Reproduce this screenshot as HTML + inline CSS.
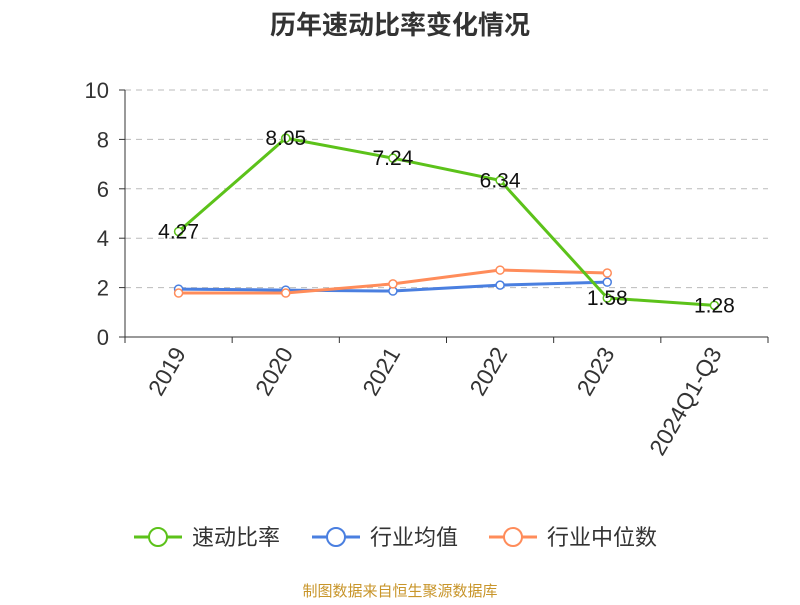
<!DOCTYPE html>
<html><head><meta charset="utf-8"><style>
body{margin:0;background:#fff;font-family:"Liberation Sans","Noto Sans CJK SC",sans-serif}
</style></head><body>
<svg width="800" height="600" id="c" font-family="Liberation Sans, Noto Sans CJK SC, sans-serif">
<text x="400" y="34" text-anchor="middle" font-size="26" font-weight="bold" fill="#333">历年速动比率变化情况</text>
<g id="grid"></g><g id="axes"></g><g id="series"></g>
<g font-size="22" fill="#333">
<g><line x1="134" y1="537" x2="182" y2="537" stroke="#5cc21a" stroke-width="3"/><circle cx="158" cy="537" r="9" fill="#fff" stroke="#5cc21a" stroke-width="2"/><text x="192" y="545">速动比率</text></g>
<g><line x1="312" y1="537" x2="360" y2="537" stroke="#4a7fe0" stroke-width="3"/><circle cx="336" cy="537" r="9" fill="#fff" stroke="#4a7fe0" stroke-width="2"/><text x="370" y="545">行业均值</text></g>
<g><line x1="489" y1="537" x2="537" y2="537" stroke="#ff8c5a" stroke-width="3"/><circle cx="513" cy="537" r="9" fill="#fff" stroke="#ff8c5a" stroke-width="2"/><text x="547" y="545">行业中位数</text></g>
</g>
<text x="400" y="596" text-anchor="middle" font-size="15" fill="#c8952a">制图数据来自恒生聚源数据库</text>
</svg>
<script>
const categories=["2019","2020","2021","2022","2023","2024Q1-Q3"];
const quickRatio=[4.27,8.05,7.24,6.34,1.58,1.28];
const industryMean=[1.94,1.9,1.86,2.1,2.22];
const industryMedian=[1.78,1.78,2.15,2.71,2.59];
const yTicks=[0,2,4,6,8,10];
const NS="http://www.w3.org/2000/svg";
const L=125,R=768,T=90,B=337,yMax=10;
const bw=(R-L)/categories.length;
const xs=i=>L+bw*(i+0.5);
const ys=v=>B-(v/yMax)*(B-T);
function mk(tag,attrs,parent,text){const e=document.createElementNS(NS,tag);for(const k in attrs)e.setAttribute(k,attrs[k]);if(text!==undefined)e.textContent=text;document.getElementById(parent).appendChild(e);return e;}
yTicks.forEach(t=>{
 if(t>0){const g=mk('line',{x1:L,x2:R,y1:ys(t),y2:ys(t),stroke:'#bbb','stroke-dasharray':'6,5'},'grid');
 
 }
 const tk=mk('line',{x1:L-6,x2:L,y1:ys(t),y2:ys(t),stroke:'#333'},'axes');
 
 
 const lb=mk('text',{x:L-16,y:ys(t)+8,'text-anchor':'end','font-size':22,fill:'#333'},'axes',t);
 
 
});
const ya=mk('line',{x1:L,x2:L,y1:T,y2:B,stroke:'#333'},'axes');


const xa=mk('line',{x1:L,x2:R,y1:B,y2:B,stroke:'#333'},'axes');


for(let i=0;i<=categories.length;i++){const tk=mk('line',{x1:L+bw*i,x2:L+bw*i,y1:B,y2:B+6,stroke:'#333'},'axes');
 
 }
categories.forEach((c,i)=>{const x=xs(i)+8,y=B+16;
 const lb=mk('text',{x:x,y:y,'text-anchor':'end','font-size':23,fill:'#333',transform:`rotate(-60 ${x} ${y})`},'axes',c);
 
 });
function series(vals,color,name,labels){
 const pts=vals.map((v,i)=>xs(i)+','+ys(v)).join(' ');
 const pl=mk('polyline',{points:pts,fill:'none',stroke:color,'stroke-width':3},'series');
 
 
 vals.forEach((v,i)=>{const c=mk('circle',{cx:xs(i),cy:ys(v),r:4,fill:'#fff',stroke:color,'stroke-width':1.5},'series');
  
  
  if(labels){const t=mk('text',{x:xs(i),y:ys(v)+7,'text-anchor':'middle','font-size':21,fill:'#111'},'series',v.toFixed(2));
  
  }});
}
series(industryMean,'#4a7fe0','industry-mean',false);
series(industryMedian,'#ff8c5a','industry-median',false);
series(quickRatio,'#5cc21a','quick-ratio',true);
</script>
</body></html>
